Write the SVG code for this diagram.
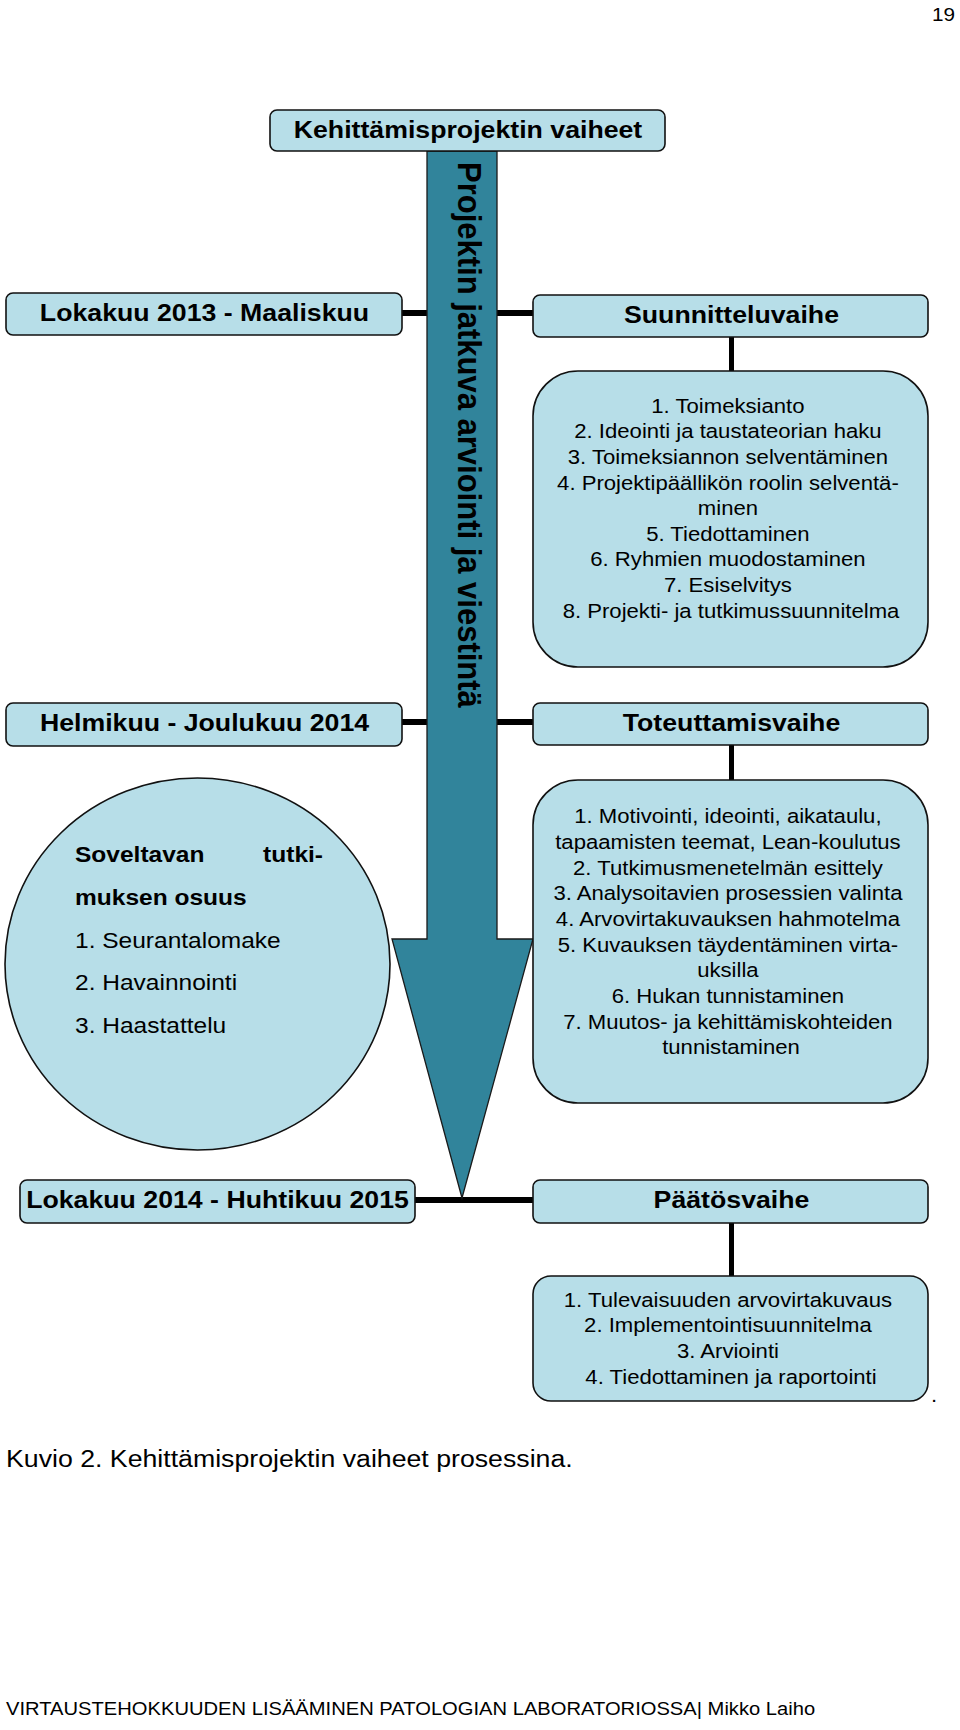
<svg xmlns="http://www.w3.org/2000/svg" width="960" height="1730" viewBox="0 0 960 1730">
<style>
  .box { fill:#B7DEE8; stroke:#111; stroke-width:1.6; }
  .arrow { fill:#31849B; stroke:#1a1a1a; stroke-width:1.3; }
  .h { stroke:#000; stroke-width:6; fill:none; }
  .v { stroke:#000; stroke-width:5; fill:none; }
  text { font-family:"Liberation Sans", Arial, sans-serif; fill:#000; }
  .lbl { font-weight:bold; font-size:24.5px; text-anchor:middle; }
  .item { font-size:20.3px; text-anchor:middle; }
  .ellb { font-weight:bold; font-size:22.5px; }
  .ell { font-size:22.5px; }
  .rot { font-weight:bold; font-size:31px; }
  .cap { font-size:24.5px; }
  .foot { font-size:18.5px; }
  .pg { font-size:19px; text-anchor:end; }
</style>

<text class="pg" transform="translate(955,0) scale(1.09,1)" y="21">19</text>

<g id="connectors">
  <line class="h" x1="401" y1="313" x2="428" y2="313"/>
  <line class="h" x1="496" y1="313" x2="534" y2="313"/>
  <line class="h" x1="401" y1="722" x2="428" y2="722"/>
  <line class="h" x1="496" y1="722" x2="534" y2="722"/>
  <line class="h" x1="414" y1="1200" x2="534" y2="1200"/>
  <line class="v" x1="731.5" y1="337" x2="731.5" y2="372"/>
  <line class="v" x1="731.5" y1="745" x2="731.5" y2="781"/>
  <line class="v" x1="731.5" y1="1222" x2="731.5" y2="1277"/>
</g>

<g id="arrow">
  <polygon class="arrow" points="427,151 497,151 497,939 533,939 462,1198 392,939 427,939"/>
  <text class="rot" transform="translate(458,162) scale(1.09,1) rotate(90)">Projektin jatkuva arviointi ja viestintä</text>
</g>

<g id="title">
  <rect class="box" x="270" y="110" width="395" height="41" rx="7"/>
  <text class="lbl" transform="translate(468,0) scale(1.09,1)" y="138">Kehittämisprojektin vaiheet</text>
</g>

<g id="period1">
  <rect class="box" x="6" y="293" width="396" height="42" rx="7"/>
  <text class="lbl" transform="translate(204.5,0) scale(1.09,1)" y="321">Lokakuu 2013 - Maaliskuu</text>
</g>

<g id="phase1">
  <rect class="box" x="533" y="295" width="395" height="42" rx="7"/>
  <text class="lbl" transform="translate(731.5,0) scale(1.09,1)" y="323">Suunnitteluvaihe</text>
</g>

<g id="phase1-tasks">
  <rect class="box" x="533" y="371" width="395" height="296" rx="45"/>
  <text class="item" transform="translate(731,0) scale(1.09,1)">
    <tspan x="0" y="413">1. Toimeksianto</tspan>
    <tspan x="0" y="438.5">2. Ideointi ja taustateorian haku</tspan>
    <tspan x="0" y="464">3. Toimeksiannon selventäminen</tspan>
    <tspan x="0" y="490">4. Projektipäällikön roolin selventä-</tspan>
    <tspan x="0" y="515.5">minen</tspan>
    <tspan x="0" y="541">5. Tiedottaminen</tspan>
    <tspan x="0" y="566.5">6. Ryhmien muodostaminen</tspan>
    <tspan x="0" y="592">7. Esiselvitys</tspan>
    <tspan x="0" y="618">8. Projekti- ja tutkimussuunnitelma</tspan>
  </text>
</g>

<g id="period2">
  <rect class="box" x="6" y="703" width="396" height="43" rx="7"/>
  <text class="lbl" transform="translate(204.5,0) scale(1.09,1)" y="731">Helmikuu - Joulukuu 2014</text>
</g>

<g id="phase2">
  <rect class="box" x="533" y="703" width="395" height="42" rx="7"/>
  <text class="lbl" transform="translate(731.5,0) scale(1.09,1)" y="731">Toteuttamisvaihe</text>
</g>

<g id="phase2-tasks">
  <rect class="box" x="533" y="780" width="395" height="323" rx="45"/>
  <text class="item" transform="translate(731,0) scale(1.09,1)">
    <tspan x="0" y="823">1. Motivointi, ideointi, aikataulu,</tspan>
    <tspan x="0" y="849">tapaamisten teemat, Lean-koulutus</tspan>
    <tspan x="0" y="875">2. Tutkimusmenetelmän esittely</tspan>
    <tspan x="0" y="900">3. Analysoitavien prosessien valinta</tspan>
    <tspan x="0" y="926">4. Arvovirtakuvauksen hahmotelma</tspan>
    <tspan x="0" y="952">5. Kuvauksen täydentäminen virta-</tspan>
    <tspan x="0" y="977">uksilla</tspan>
    <tspan x="0" y="1003">6. Hukan tunnistaminen</tspan>
    <tspan x="0" y="1029">7. Muutos- ja kehittämiskohteiden</tspan>
    <tspan x="0" y="1054">tunnistaminen</tspan>
  </text>
</g>

<g id="research">
  <ellipse class="box" cx="197.5" cy="964" rx="192.5" ry="186"/>
  <text class="ellb" transform="translate(75,0) scale(1.09,1)" y="862">Soveltavan</text>
  <text class="ellb" transform="translate(323,0) scale(1.09,1)" y="862" text-anchor="end">tutki-</text>
  <text class="ellb" transform="translate(75,0) scale(1.09,1)" y="905">muksen osuus</text>
  <text class="ell" transform="translate(75,0) scale(1.09,1)" y="948">1. Seurantalomake</text>
  <text class="ell" transform="translate(75,0) scale(1.09,1)" y="990">2. Havainnointi</text>
  <text class="ell" transform="translate(75,0) scale(1.09,1)" y="1033">3. Haastattelu</text>
</g>

<g id="period3">
  <rect class="box" x="20" y="1180" width="395" height="43" rx="7"/>
  <text class="lbl" transform="translate(217.5,0) scale(1.09,1)" y="1208">Lokakuu 2014 - Huhtikuu 2015</text>
</g>

<g id="phase3">
  <rect class="box" x="533" y="1180" width="395" height="43" rx="7"/>
  <text class="lbl" transform="translate(731.5,0) scale(1.09,1)" y="1208">Päätösvaihe</text>
</g>

<g id="phase3-tasks">
  <rect class="box" x="533" y="1276" width="395" height="125" rx="18"/>
  <text class="item" transform="translate(731,0) scale(1.09,1)">
    <tspan x="0" y="1307">1. Tulevaisuuden arvovirtakuvaus</tspan>
    <tspan x="0" y="1332">2. Implementointisuunnitelma</tspan>
    <tspan x="0" y="1358">3. Arviointi</tspan>
    <tspan x="0" y="1384">4. Tiedottaminen ja raportointi</tspan>
  </text>
</g>

<text class="item" transform="translate(934,0) scale(1.09,1)" y="1402">.</text>

<text class="cap" transform="translate(6,0) scale(1.09,1)" y="1467">Kuvio 2. Kehittämisprojektin vaiheet prosessina.</text>

<text class="foot" transform="translate(6,0) scale(1.09,1)" y="1715">VIRTAUSTEHOKKUUDEN LISÄÄMINEN PATOLOGIAN LABORATORIOSSA| Mikko Laiho</text>
</svg>
